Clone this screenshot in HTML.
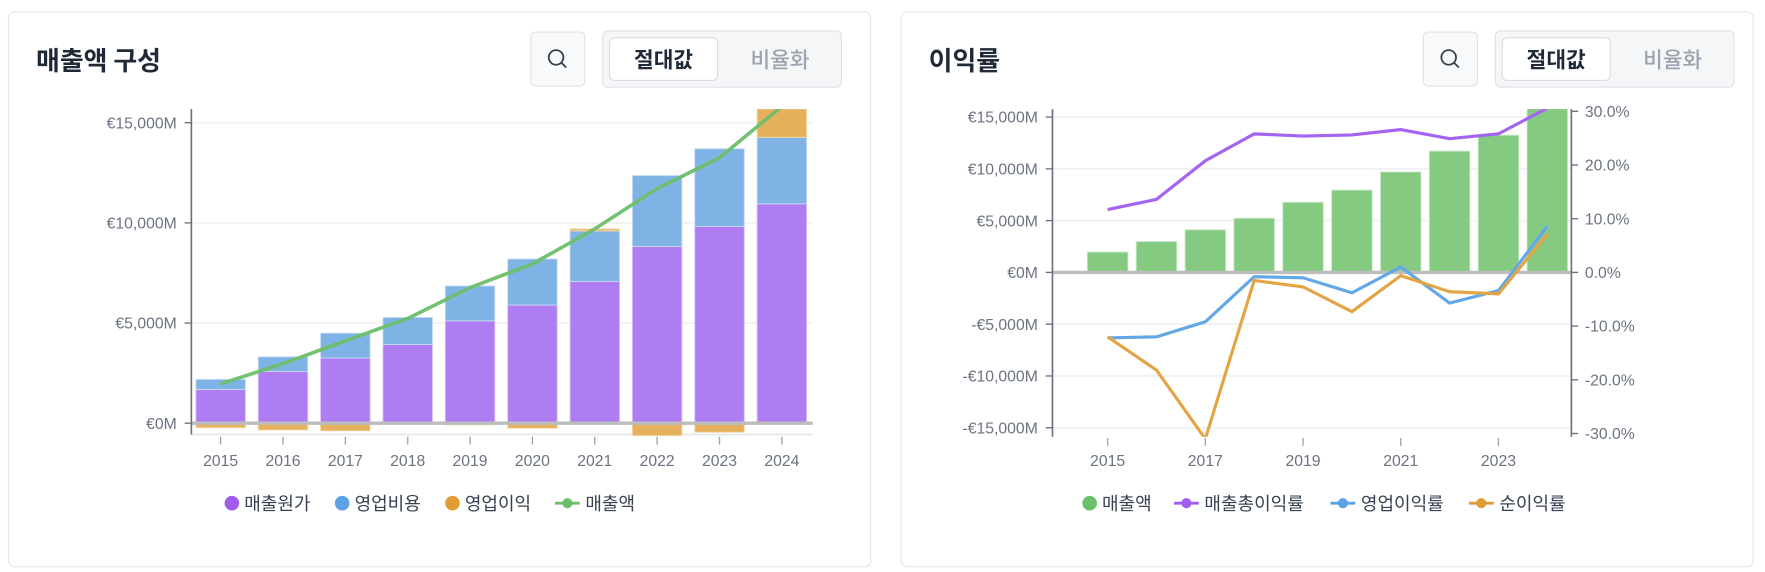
<!DOCTYPE html>
<html><head><meta charset="utf-8">
<style>
html,body{margin:0;padding:0;background:#fff;width:1765px;height:572px;overflow:hidden}
#wrap{position:absolute;left:0;top:0;width:1568px;height:508px;transform:scale(1.12564);transform-origin:0 0;font-family:"Liberation Sans","Noto Sans CJK KR",sans-serif}
.card{position:absolute;top:10px;height:494px;border:1px solid #e3e5e8;border-radius:6px;background:#fff;box-sizing:border-box}
.title{position:absolute;left:24px;top:24px;font-size:23px;font-weight:700;color:#1f2937;font-family:"Noto Sans CJK KR",sans-serif}
.sbtn{position:absolute;top:17px;width:49px;height:49px;border:1px solid #dfe2e6;border-radius:5px;background:#f8f9fb;box-sizing:border-box}
.tog{position:absolute;top:16px;width:213px;height:51px;border:1px solid #dfe2e6;border-radius:5px;background:#f5f6f8;box-sizing:border-box}
.tog .on{position:absolute;left:5px;top:5px;width:97px;height:39px;background:#fff;border:1px solid #d9dce1;border-radius:5px;box-sizing:border-box;text-align:center;line-height:37px;font-size:19px;font-weight:600;color:#1f2937;font-family:"Noto Sans CJK KR",sans-serif}
.tog .off{position:absolute;left:107px;top:5px;width:100px;height:39px;text-align:center;line-height:39px;font-size:19px;font-weight:500;color:#9ca3af;font-family:"Noto Sans CJK KR",sans-serif}
svg text{font-family:"Liberation Sans","Noto Sans CJK KR",sans-serif}
</style></head><body>
<div id="wrap">
<div class="card" style="left:7px;width:767px">
  <div class="title">매출액 구성</div>
  <div class="sbtn" style="left:463px"><svg width="47" height="47"><circle cx="22" cy="22" r="6.5" fill="none" stroke="#374151" stroke-width="1.6"/><line x1="27" y1="27" x2="31" y2="31" stroke="#374151" stroke-width="1.6"/></svg></div>
  <div class="tog" style="left:527px"><div class="on">절대값</div><div class="off">비율화</div></div>
</div>
<div class="card" style="left:800px;width:758px">
  <div class="title">이익률</div>
  <div class="sbtn" style="left:463px"><svg width="47" height="47"><circle cx="22" cy="22" r="6.5" fill="none" stroke="#374151" stroke-width="1.6"/><line x1="27" y1="27" x2="31" y2="31" stroke="#374151" stroke-width="1.6"/></svg></div>
  <div class="tog" style="left:527px"><div class="on">절대값</div><div class="off">비율화</div></div>
</div>
<svg id="chart" width="1568" height="508" style="position:absolute;left:0;top:0"></svg>
</div>
<script>
const years = [2015,2016,2017,2018,2019,2020,2021,2022,2023,2024];
const cogs = [1685,2585,3260,3930,5110,5900,7080,8820,9830,10950];
const opex = [505,730,1235,1350,1740,2300,2520,3540,3870,3320];
const opIncome = [-225,-340,-380,-50,-80,-250,100,-650,-450,1550];
const revenue = [1965,2975,4115,5230,6770,7950,9700,11710,13250,15820];
const leftTicks = [0,5000,10000,15000];
const leftTickLabels = ['€0M','€5,000M','€10,000M','€15,000M'];
const grossMargin = [11.7,13.6,20.8,25.8,25.4,25.6,26.6,24.9,25.8,30.6];
const opMargin = [-12.2,-12.0,-9.2,-0.8,-1.0,-3.8,1.0,-5.7,-3.4,8.6];
const netMargin = [-12.0,-18.2,-31.0,-1.5,-2.7,-7.3,-0.6,-3.6,-4.0,7.1];
const rightTicks = [-15000,-10000,-5000,0,5000,10000,15000];
const rightTickLabels = ['-€15,000M','-€10,000M','-€5,000M','€0M','€5,000M','€10,000M','€15,000M'];
const pctTicks = [-30,-20,-10,0,10,20,30];
const pctTickLabels = ['-30.0%','-20.0%','-10.0%','0.0%','10.0%','20.0%','30.0%'];

const NS='http://www.w3.org/2000/svg';
const svg=document.getElementById('chart');
function el(tag,attrs,parent,text){const e=document.createElementNS(NS,tag);for(const k in attrs)e.setAttribute(k,attrs[k]);if(text!==undefined)e.textContent=text;(parent||svg).appendChild(e);return e;}
const defs=el('defs',{});
const c1=el('clipPath',{id:'c1'},defs);el('rect',{x:170,y:97,width:555,height:290},c1);
const c2=el('clipPath',{id:'c2'},defs);el('rect',{x:935,y:97,width:461,height:291},c2);
const gridG=el('g',{});



// ---- Left chart ----
const lx=i=>196+i*55.4, ly=v=>376-v*89/5000;
const g1=el('g',{'clip-path':'url(#c1)'});


leftTicks.forEach((t,i)=>{
  const gl=el('line',{x1:170,x2:722,y1:ly(t),y2:ly(t),stroke:'#f0f1f3','stroke-width':1.5},gridG);
  
  
  const tk=el('line',{x1:164,x2:170,y1:ly(t),y2:ly(t),stroke:'#6b7280','stroke-width':1.2});
  
  
  const tl=el('text',{x:157,y:ly(t)+5,'text-anchor':'end','font-size':14,fill:'#6b7280'},svg,leftTickLabels[i]);
  
  
});
el('line',{x1:170,x2:722,y1:386,y2:386,stroke:'#e5e7eb','stroke-width':1.5},gridG);
years.forEach((y,i)=>{
  const x=lx(i)-22;
  const b1=el('rect',{x:x,y:ly(cogs[i]),width:44,height:ly(0)-ly(cogs[i]),fill:'#ae7df1',stroke:'#d8c4f8','stroke-width':0.8},g1);
  
  
  const top=cogs[i]+opex[i];
  const b2=el('rect',{x:x,y:ly(top),width:44,height:ly(cogs[i])-ly(top),fill:'#7fb3e6',stroke:'#c6dcf3','stroke-width':0.8},g1);
  
  
  const o=opIncome[i];
  const y0=o>=0?ly(top+o):ly(0), h=o>=0?ly(top)-ly(top+o):ly(o)-ly(0);
  const b3=el('rect',{x:x,y:y0,width:44,height:h,fill:'#e6b15d',stroke:'#f3d9ae','stroke-width':0.8},g1);
  
  
  const tk=el('line',{x1:lx(i),x2:lx(i),y1:388,y2:395,stroke:'#9ca3af','stroke-width':1.2});
  
  
  const tl=el('text',{x:lx(i),y:414,'text-anchor':'middle','font-size':14,fill:'#6b7280'},svg,String(y));
  
  
});
el('line',{x1:170,x2:722,y1:376,y2:376,stroke:'#bdbdbd','stroke-width':3},g1);
const revLine=el('polyline',{points:revenue.map((v,i)=>lx(i)+','+ly(v)).join(' '),fill:'none',stroke:'#6cbf6a','stroke-width':3.2,'stroke-opacity':0.95},g1);


el('line',{x1:170,x2:170,y1:97,y2:386,stroke:'#6b7280','stroke-width':1.5});

function legend(items,x0,y){
  let x=x0;
  items.forEach(it=>{
    const g=el('g',{});
    
    
    if(it.type==='dot'){el('circle',{cx:x+7,cy:y,r:6.5,fill:it.color},g);x+=18;}
    else{el('line',{x1:x,x2:x+22,y1:y,y2:y,stroke:it.color,'stroke-width':2.5},g);el('circle',{cx:x+11,cy:y,r:4.5,fill:it.color},g);x+=27;}
    el('text',{x:x,y:y+6,'font-size':16,fill:'#374151'},g,it.label);
    x+=it.w;
  });
}
legend([{key:'cogs',type:'dot',color:'#a05ced',label:'매출원가',w:80},{key:'opex',type:'dot',color:'#5ba1e3',label:'영업비용',w:80},{key:'op-income',type:'dot',color:'#e09d36',label:'영업이익',w:80},{key:'revenue',type:'line',color:'#6cbf6a',label:'매출액',w:60}],199,447);

// ---- Right chart ----
const rx=i=>984+i*43.4, ry=v=>242-v*46/5000, rp=p=>242-p*47.7/10;
const g2=el('g',{'clip-path':'url(#c2)'});


rightTicks.forEach((t,i)=>{
  const gl=el('line',{x1:935,x2:1396,y1:ry(t),y2:ry(t),stroke:'#f0f1f3','stroke-width':1.5},gridG);
  
  
  el('line',{x1:929,x2:935,y1:ry(t),y2:ry(t),stroke:'#6b7280','stroke-width':1.2});
  const tl=el('text',{x:922,y:ry(t)+5,'text-anchor':'end','font-size':14,fill:'#6b7280'},svg,rightTickLabels[i]);
  
  
});
pctTicks.forEach((t,i)=>{
  el('line',{x1:1396,x2:1402,y1:rp(t),y2:rp(t),stroke:'#6b7280','stroke-width':1.2});
  const tl=el('text',{x:1408,y:rp(t)+5,'text-anchor':'start','font-size':14,fill:'#6b7280'},svg,pctTickLabels[i]);
  
  
});
years.forEach((y,i)=>{
  const b=el('rect',{x:rx(i)-18,y:ry(revenue[i]),width:36,height:ry(0)-ry(revenue[i]),fill:'#84ca81',stroke:'#c7e8c5','stroke-width':0.8},g2);
  
  
  if(i%2===0){
    el('line',{x1:rx(i),x2:rx(i),y1:389,y2:396,stroke:'#9ca3af','stroke-width':1.2});
    const tl=el('text',{x:rx(i),y:414,'text-anchor':'middle','font-size':14,fill:'#6b7280'},svg,String(y));
    
    
  }
});
el('line',{x1:935,x2:1396,y1:242,y2:242,stroke:'#bdbdbd','stroke-width':3},g2);
[[grossMargin,'#a463f2','gross-margin-line'],[opMargin,'#62a8e8','operating-margin-line'],[netMargin,'#e3a444','net-margin-line']].forEach(([arr,c,n])=>{
  const l=el('polyline',{points:arr.map((v,i)=>rx(i)+','+rp(v)).join(' '),fill:'none',stroke:c,'stroke-width':2.8},g2);
  
  
});
el('line',{x1:935,x2:935,y1:97,y2:388,stroke:'#6b7280','stroke-width':1.5});
el('line',{x1:1396,x2:1396,y1:97,y2:388,stroke:'#6b7280','stroke-width':1.5});
legend([{key:'revenue-bar',type:'dot',color:'#6cbf6a',label:'매출액',w:64},{key:'gross-margin',type:'line',color:'#a05ced',label:'매출총이익률',w:112},{key:'operating-margin',type:'line',color:'#5ba1e3',label:'영업이익률',w:96},{key:'net-margin',type:'line',color:'#e09d36',label:'순이익률',w:70}],961,447);
</script>
</body></html>
